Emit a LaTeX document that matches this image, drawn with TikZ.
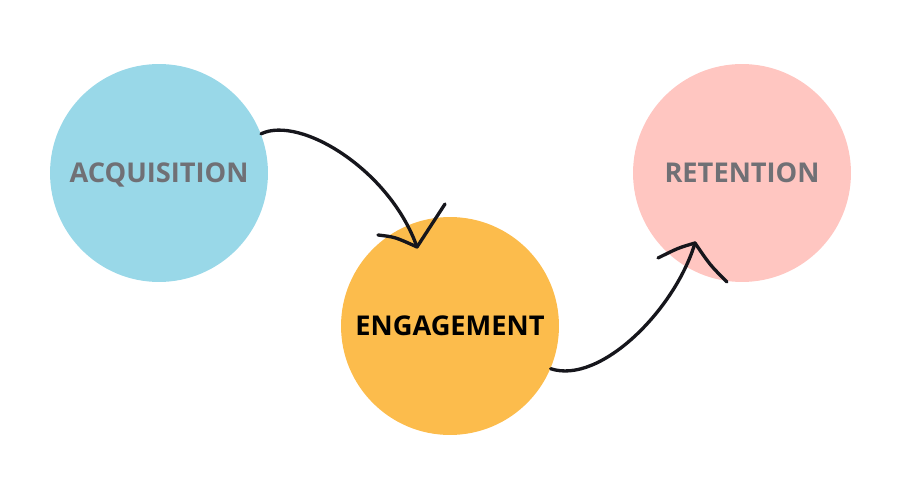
\documentclass[tikz,border=0pt]{standalone}
\usepackage{fontspec}
\setmainfont{Open Sans}
\usepackage{tikz}
\usetikzlibrary{positioning}
\definecolor{stageblue}  {RGB}{153,216,232}
\definecolor{stageorange}{RGB}{252,188,76}
\definecolor{stagepink}  {RGB}{255,198,193}
\definecolor{labelgray}  {RGB}{112,112,117}
\definecolor{penblack}   {RGB}{22,22,28}

\begin{document}
\begin{tikzpicture}[
  x=0.02cm, y=-0.02cm,
  font=\fontsize{15.5}{18}\selectfont\bfseries,
  stage/.style={circle, minimum size=4.36cm, inner sep=0pt,
    text height=0.38cm, text depth=0pt},
  pen/.style={draw=penblack, line width=1.9pt, line cap=round, line join=round},
]
\useasboundingbox (0,0) rectangle (900,500);

\node[stage, fill=stageblue,   text=labelgray] (acq) at (159,173) {ACQUISITION};
\node[stage, fill=stageorange, text=black]     (eng) at (450,326) {ENGAGEMENT};
\node[stage, fill=stagepink,   text=labelgray] (ret) at (742,173) {RETENTION};

% arrow tips (inside the target circles)
\coordinate (tipeng) at (417,247);
\coordinate (tipret) at (695,243);

% Acquisition -> Engagement
\draw[pen] (acq.21) .. controls (300,115) and (390,170) .. (tipeng);
\draw[pen] (378,235) .. controls (395,237) .. (tipeng) -- (445,204);

% Engagement -> Retention
\draw[pen] (eng.-23) .. controls (600,385) and (675,310) .. (tipret);
\draw[pen] (658,258) .. controls (678,248) .. (tipret) .. controls (710,265) .. (727,282);

\end{tikzpicture}
\end{document}
